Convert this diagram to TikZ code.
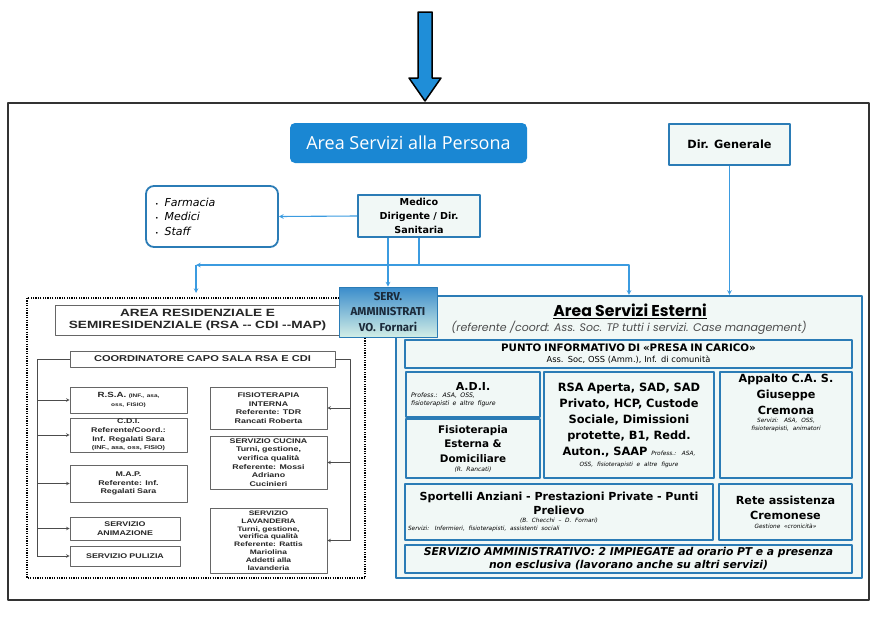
\documentclass[tikz,border=0pt]{standalone}
\usepackage{fontspec}
\setmainfont{DejaVu Sans}
\newfontfamily\arialf{Liberation Sans}[FakeStretch=1.3]
\newfontfamily\gothic{Poppins}
\newfontfamily\opens{Open Sans}
\newfontfamily\firaf{Fira Sans}
\newcommand\fz[2]{\fontsize{#1}{#2}\selectfont}
\definecolor{bordo}{HTML}{2B7CB6}
\definecolor{fondo}{HTML}{F1F8F6}
\definecolor{linea}{HTML}{3B9BE0}
\definecolor{freccia}{HTML}{1F8ED8}
\definecolor{titolo}{HTML}{1A87D3}
\definecolor{servtop}{HTML}{3A8CCB}
\definecolor{servbot}{HTML}{D2EEE6}
\definecolor{scuro}{HTML}{1B2A3A}
\begin{document}
\begin{tikzpicture}[x=1pt, y=-1pt, line join=round, >=stealth,
	box/.style={draw=bordo, line width=1.8pt, fill=fondo, inner sep=1pt, align=center},
	grigio/.style={draw=black!60, line width=.7pt, fill=white, inner sep=1pt, align=center, text=black!85, font=\arialf\bfseries\fz{6.8}{8.6}},
	con/.style={draw=linea, line width=1.1pt},
	nero/.style={draw=black!70, line width=.6pt}]
	\useasboundingbox (0,0) rectangle (872,632);
	\draw[fill=freccia, line width=1.5pt] (418,12) -- (432,12) -- (432,78) -- (441,78) -- (425,101) -- (409,78) -- (418,78) -- cycle;
	\draw[line width=1.4pt, black!80] (8,103) rectangle (869,600);
	
	\node[fill=titolo, rounded corners=5pt, minimum width=237, minimum height=40, text=white, font=\opens\fz{18}{20}] (titolo) at (408.5,143) {Area Servizi alla Persona};
	\node[box, line width=1.6pt, minimum width=121, minimum height=41, font=\bfseries\fz{11.3}{13}] (dirgen) at (729.5,144.5) {Dir. Generale};
	\node[box, fill=white, rounded corners=8pt, minimum width=132, minimum height=61, align=left, text width=114, font=\itshape\fz{11}{14.5}] (farmacia) at (212,216.5)
	{{\upshape\fz{6}{14.5}•}\hspace{6pt}Farmacia\\{\upshape\fz{6}{14.5}•}\hspace{6pt}Medici\\{\upshape\fz{6}{14.5}•}\hspace{6pt}Staff};
	\node[box, minimum width=122, minimum height=42, text width=118, font=\bfseries\fz{9.6}{14}] (medico) at (419,216) {Medico\\Dirigente / Dir.\\Sanitaria};
	
	\draw[line width=1.6pt, dash pattern=on 1.2pt off 1.2pt] (27,298) rectangle (365,578);
	\node[grigio, minimum width=285, minimum height=30, text width=280, font=\arialf\bfseries\fz{10.5}{12.5}] (restitolo) at (197.5,320) {AREA RESIDENZIALE E\\SEMIRESIDENZIALE (RSA -- CDI --MAP)};
	\node[grigio, minimum width=265, minimum height=16, font=\arialf\bfseries\fz{8.5}{10}] (coord) at (202.5,359) {COORDINATORE CAPO SALA RSA E CDI};
	\node[grigio, minimum width=117, minimum height=26, text width=110, font=\arialf\bfseries\fz{7.5}{8.5}] (rsa) at (128.5,400) {R.S.A. {\fz{5}{8.5}(INF., asa,}\\{\fz{5}{8.5}oss, FISIO)}};
	\node[grigio, minimum width=117, minimum height=34, text width=110] (cdi) at (128.5,435) {C.D.I.\\Referente/Coord.:\\Inf. Regalati Sara\\{\fz{5.5}{8.6}(INF., asa, oss, FISIO)}};
	\node[grigio, minimum width=117, minimum height=37, text width=110] (map) at (128.5,483.5) {M.A.P.\\Referente: Inf.\\Regalati Sara};
	\node[grigio, minimum width=110, minimum height=23, text width=104] (anim) at (125,528.5) {SERVIZIO\\ANIMAZIONE};
	\node[grigio, minimum width=110, minimum height=20, text width=104] (pulizia) at (125,556) {SERVIZIO PULIZIA};
	\node[grigio, minimum width=117, minimum height=42, text width=110] (fisint) at (268.5,408) {FISIOTERAPIA\\INTERNA\\Referente: TDR\\Rancati Roberta};
	\node[grigio, minimum width=117, minimum height=53, text width=110] (cucina) at (268.5,462.5) {SERVIZIO CUCINA\\Turni, gestione,\\verifica qualità\\Referente: Mossi\\Adriano\\Cucinieri};
	\node[grigio, minimum width=117, minimum height=65, text width=110, font=\arialf\bfseries\fz{6.5}{7.8}] (lavand) at (268.5,540.5) {SERVIZIO\\LAVANDERIA\\Turni, gestione,\\verifica qualità\\Referente: Rattis\\Mariolina\\Addetti alla\\lavanderia};
	\path (37,556) coordinate (sxb) (350,540.5) coordinate (dxb);
	\draw[nero] (coord.west) -| (sxb);
	\draw[nero] (coord.east) -| (dxb);
	\foreach \b in {rsa,cdi,map,anim,pulizia}
	\draw[nero,->] (sxb |- \b.west) -- (\b.west);
	\foreach \b in {fisint,cucina,lavand}
	\draw[nero,->] (dxb |- \b.east) -- (\b.east);
	
	\node[box, line width=2.2pt, minimum width=466, minimum height=282] (esterni) at (629,437) {};
	\node[font=\gothic\bfseries\fz{15.7}{17}] (esttitolo) at (630,311) {\underline{Area Servizi Esterni}};
	\node[font=\gothic\itshape\fz{11}{12}, text=black!70] (estsotto) at (629,328) {(referente /coord: Ass. Soc. TP tutti i servizi. Case management)};
	\node[box, minimum width=447, minimum height=28, text width=440, font=\fz{8.3}{11}] (punto) at (628.5,354) {{\bfseries\fz{10.3}{12}PUNTO INFORMATIVO DI «PRESA IN CARICO»}\\Ass. Soc, OSS (Amm.), Inf. di comunità};
	\node[box, minimum width=134, minimum height=45, text width=124, align=left] (adi) at (473,394.5) {{\bfseries\fz{11}{13}\centering A.D.I.\par}{\itshape\fz{6.2}{7.5}Profess.: ASA, OSS,\\fisioterapisti e altre figure\par}};
	\node[box, minimum width=134, minimum height=59, text width=128, font=\bfseries\fz{10.4}{14.5}] (fisio) at (473,448.5) {Fisioterapia\\Esterna \&\\Domiciliare\par{\mdseries\itshape\fz{6}{9}(R. Rancati)\par}};
	\node[box, minimum width=170, minimum height=106, text width=166, font=\bfseries\fz{11.4}{16}] (rsaap) at (629,425) {RSA Aperta, SAD, SAD\\Privato, HCP, Custode\\Sociale, Dimissioni\\protette, B1, Redd.\\Auton., SAAP {\mdseries\itshape\fz{5.8}{6}Profess.: ASA,}\par{\mdseries\itshape\fz{5.8}{11}OSS, fisioterapisti e altre figure\par}};
	\node[box, minimum width=132, minimum height=106] (appalto) at (786,425) {};
	\node[anchor=north, text width=126, align=center, inner sep=1pt, font=\bfseries\fz{11.2}{16}] (appaltot) at ([yshift=-2pt]appalto.north) {Appalto C.A. S.\\Giuseppe\\Cremona\par{\mdseries\itshape\fz{5.8}{8}Servizi: ASA, OSS,\\fisioterapisti, animatori\par}};
	\node[box, minimum width=308, minimum height=56, text width=302, font=\bfseries\fz{11.1}{14.5}] (sportelli) at (559,512) {Sportelli Anziani - Prestazioni Private - Punti\\Prelievo\par{\mdseries\itshape\fz{5.8}{8}(B. Checchi -- D. Fornari)\par\raggedright Servizi: Infermieri, fisioterapisti, assistenti sociali\par}};
	\node[box, minimum width=133, minimum height=56, text width=128, font=\bfseries\fz{11.2}{15}] (rete) at (785.5,512) {Rete assistenza\\Cremonese\par{\mdseries\itshape\fz{5.8}{9}Gestione «cronicità»\par}};
	\node[box, minimum width=447, minimum height=28, text width=440, font=\bfseries\itshape\fz{10.8}{13}] (amm) at (628.5,559) {SERVIZIO AMMINISTRATIVO: 2 IMPIEGATE ad orario PT e a presenza\\non esclusiva (lavorano anche su altri servizi)};
	
	\node[draw=bordo, line width=.8pt, top color=servtop, bottom color=servbot, minimum width=98, minimum height=50, text width=96, align=center, inner sep=1pt, text=scuro, font=\firaf\bfseries\fz{11.5}{15.5}] (serv) at (388,312) {SERV.\\AMMINISTRATI\\VO. Fornari};
	
	\path (196,265) coordinate (sin) (196,293) coordinate (sinb) (419,265) coordinate (snodo);
	\draw[con,->] (medico.west) -- (farmacia.east);
	\draw[con,->] (serv.north |- medico.south) -- (serv.north);
	\draw[con] (medico.south) -- (snodo);
	\draw[con,->] (snodo) -- (sin);
	\draw[con,->] (sin) -- (sinb);
	\draw[con,->] (snodo) -| (esterni.north);
	\draw[con,->] (dirgen.south) -- (dirgen.south |- esterni.north);
\end{tikzpicture}
\end{document}
